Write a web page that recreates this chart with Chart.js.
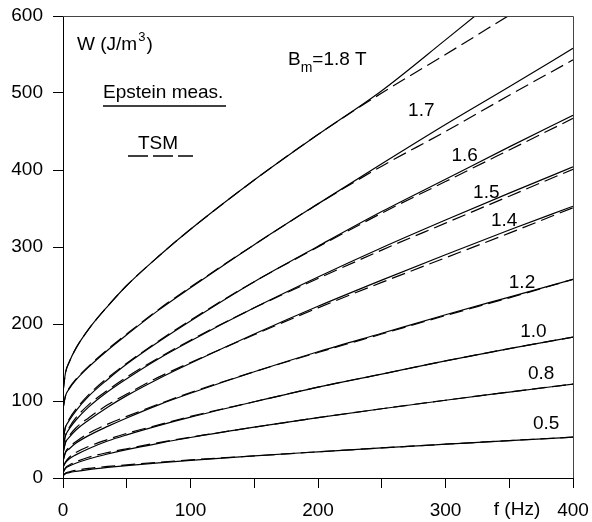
<!DOCTYPE html>
<html>
<head>
<meta charset="utf-8">
<script src="https://cdn.jsdelivr.net/npm/chart.js@4.4.0/dist/chart.umd.min.js"></script>
<style>
  html, body { margin: 0; padding: 0; background: #fff; }
  #wrap { width: 592px; height: 522px; }
</style>
</head>
<body>
<div id="wrap"><canvas id="chartOne" width="592" height="522"></canvas></div>
<script>
const freq = [0, 2, 5, 10, 20, 35, 50, 75, 100, 150, 200, 250, 300, 350, 400];

// W (J/m3), Epstein measurement (solid) and TSM (dashed), per Bm
const eps18 = [112, 137, 151, 168, 193, 223, 250, 288, 323, 387, 446, 503, 569, 636, 703];
const tsm18 = [112, 137, 151, 168, 193, 223, 250, 288, 323, 387, 446, 500, 550, 601, 652];
const eps17 = [90, 107, 116, 127, 144, 166, 186, 218, 247, 303, 356, 408, 459, 508, 558];
const tsm17 = [90, 107, 117, 128, 145, 167, 187, 219, 248, 303, 356, 405, 450, 497, 543];
const eps16 = [50, 66, 75, 87, 106, 128, 148, 177, 204, 255, 301, 346, 388, 430, 471];
const tsm16 = [50, 67, 77, 89, 108, 130, 149, 178, 205, 255, 300, 344, 385, 426, 467];
const eps15 = [40, 55, 64, 75, 92, 112, 129, 155, 178, 221, 261, 299, 335, 370, 404];
const tsm15 = [40, 56, 66, 78, 95, 114, 131, 156, 179, 221, 259, 296, 331, 366, 401];
const eps14 = [32, 46, 53, 62, 75, 92, 107, 129, 149, 187, 223, 257, 290, 322, 353];
const tsm14 = [32, 47, 55, 65, 78, 95, 109, 131, 150, 186, 221, 254, 286, 318, 351];
const eps12 = [22, 33, 38, 45, 55, 67, 78, 95, 110, 138, 164, 188, 212, 235, 258];
const tsm12 = [22, 34, 40, 47, 58, 70, 80, 96, 111, 138, 163, 187, 211, 234, 258];
const eps10 = [14, 20, 25, 30, 38, 48, 56, 68, 79, 99, 118, 135, 152, 168, 183];
const tsm10 = [14, 21, 27, 33, 41, 50, 58, 69, 80, 99, 118, 135, 152, 168, 183];
const eps08 = [7, 12.5, 15.6, 19.2, 24.7, 31.2, 36.8, 45, 52.6, 66, 78.3, 89.9, 101, 111.6, 122];
const tsm08 = [7, 13.5, 17, 21, 27, 33, 38, 46, 53, 66, 78.3, 89.9, 101, 111.6, 122];
const eps05 = [3, 5.7, 7, 8.5, 10.9, 13.7, 16.1, 19.7, 22.9, 28.7, 34, 39.1, 43.9, 48.6, 53];
const tsm05 = [3, 6.5, 8, 10, 12.5, 15, 17, 20.5, 23.5, 28.7, 34, 39.1, 43.9, 48.6, 53];

// curve labels and where they sit (f, W)
const curveLabels = ["1.7", "1.6", "1.5", "1.4", "1.2", "1.0", "0.8", "0.5"];
const labelAt = [[281, 477], [315, 418], [332, 370], [346, 334], [360, 253], [369, 190], [375, 135], [379, 71]];

const FONT = "'Liberation Sans', Arial, Helvetica, sans-serif";

function series(vals, dashed) {
  return {
    data: freq.map((f, i) => ({ x: f, y: vals[i] })),
    borderColor: "#000",
    borderWidth: 1.2,
    borderDash: dashed ? [14, 6] : [],
    pointRadius: 0,
    cubicInterpolationMode: "monotone",
    clip: 0,
    fill: false
  };
}

const pairs = [
  [eps18, tsm18], [eps17, tsm17], [eps16, tsm16], [eps15, tsm15], [eps14, tsm14],
  [eps12, tsm12], [eps10, tsm10], [eps08, tsm08], [eps05, tsm05]
];
const datasets = [];
pairs.forEach(p => { datasets.push(series(p[0], false)); datasets.push(series(p[1], true)); });

const overlay = {
  id: "overlay",
  afterDatasetsDraw(chart) {
    const ctx = chart.ctx, a = chart.chartArea;
    const xs = chart.scales.x, ys = chart.scales.y;
    ctx.save();
    // top and right frame
    ctx.strokeStyle = "#444";
    ctx.lineWidth = 1;
    ctx.beginPath();
    ctx.moveTo(a.left, a.top + 0.5);
    ctx.lineTo(a.right + 0.5, a.top + 0.5);
    ctx.lineTo(a.right + 0.5, a.bottom);
    ctx.stroke();

    ctx.fillStyle = "#000";
    ctx.textBaseline = "alphabetic";
    ctx.textAlign = "left";
    ctx.font = "19px " + FONT;

    // axis title W (J/m3)
    let t = "W (J/m";
    ctx.fillText(t, 77, 50);
    let w = ctx.measureText(t).width;
    ctx.font = "13px " + FONT;
    ctx.fillText("3", 77 + w + 1, 41);
    let w3 = ctx.measureText("3").width;
    ctx.font = "19px " + FONT;
    ctx.fillText(")", 77 + w + w3 + 2, 50);

    // B_m = 1.8 T
    ctx.fillText("B", 288, 65);
    let wb = ctx.measureText("B").width;
    ctx.font = "14px " + FONT;
    ctx.fillText("m", 288 + wb, 72);
    let wm = ctx.measureText("m").width;
    ctx.font = "19px " + FONT;
    ctx.fillText("=1.8 T", 288 + wb + wm, 65);

    // legend
    ctx.fillText("Epstein meas.", 103, 98);
    ctx.fillText("TSM", 138, 149);
    ctx.strokeStyle = "#000";
    ctx.lineWidth = 1.3;
    ctx.beginPath();
    ctx.moveTo(103, 106); ctx.lineTo(226, 106);
    ctx.stroke();
    ctx.setLineDash([20, 5]);
    ctx.beginPath();
    ctx.moveTo(128, 156); ctx.lineTo(193, 156);
    ctx.stroke();
    ctx.setLineDash([]);

    // x axis name
    ctx.textAlign = "center";
    ctx.textBaseline = "middle";
    ctx.fillText("f (Hz)", 517, 510);

    // curve labels
    curveLabels.forEach((s, i) => {
      ctx.fillText(s, xs.getPixelForValue(labelAt[i][0]), ys.getPixelForValue(labelAt[i][1]));
    });
    ctx.restore();
  }
};

new Chart(document.getElementById("chartOne"), {
  type: "line",
  data: { datasets },
  plugins: [overlay],
  options: {
    responsive: false,
    animation: false,
    layout: { padding: { top: 16, right: 19, left: 0, bottom: 0 } },
    plugins: { legend: { display: false }, tooltip: { enabled: false } },
    scales: {
      x: {
        type: "linear",
        min: 0,
        max: 400,
        afterFit: s => { s.height = 44; s.paddingLeft = 0; s.paddingRight = 0; },
        ticks: {
          stepSize: 50,
          autoSkip: false,
          maxRotation: 0,
          padding: 11,
          color: "#000",
          font: { family: FONT, size: 19 },
          callback: v => (v % 100 === 0 ? String(v) : "")
        },
        grid: { drawOnChartArea: false, drawTicks: true, tickLength: 10, color: "#000" },
        border: { color: "#000", width: 1 }
      },
      y: {
        min: 0,
        max: 600,
        afterFit: s => { s.width = 63; s.paddingTop = 0; s.paddingBottom = 0; },
        ticks: {
          stepSize: 100,
          padding: 10,
          color: "#000",
          font: { family: FONT, size: 19 }
        },
        grid: { drawOnChartArea: false, drawTicks: true, tickLength: 10, color: "#000" },
        border: { color: "#000", width: 1 }
      }
    }
  }
});
</script>
</body>
</html>
